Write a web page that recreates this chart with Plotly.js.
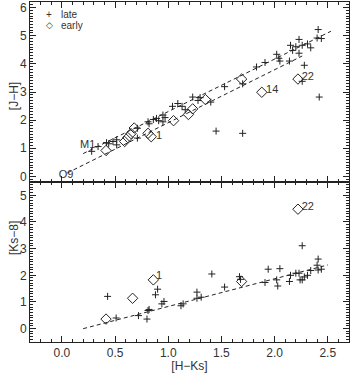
<!DOCTYPE html>
<html><head><meta charset="utf-8">
<script src="https://cdn.plot.ly/plotly-3.0.1.min.js"></script>
<style>html,body{margin:0;padding:0;background:#fff}#c{width:351px;height:373px}</style>
</head><body><div id="c"></div>
<script>
// Top panel: [J-H] vs [H-Ks]
const topLateX = [0.28,0.34,0.42,0.44,0.48,0.515,0.515,0.71,0.71,0.81,0.82,0.86,0.89,0.91,0.95,0.97,0.95,1.04,1.09,1.13,1.16,1.23,1.28,1.30,1.40,1.45,1.53,1.70,1.70,1.83,1.91,2.02,2.04,2.05,2.14,2.15,2.17,2.20,2.23,2.23,2.26,2.28,2.31,2.34,2.26,2.41,2.40,2.44,2.42];
const topLateY = [0.89,1.06,1.20,1.16,1.24,1.30,1.12,1.71,1.36,1.94,1.87,2.02,2.06,1.98,2.18,2.09,1.94,2.49,2.59,2.49,2.37,2.82,2.70,2.80,2.64,1.61,3.19,3.29,1.53,3.89,4.05,4.34,4.20,4.10,4.10,4.66,4.48,4.61,4.87,4.38,4.66,3.95,4.71,4.57,3.38,5.22,4.92,4.90,2.82];
const topEarlyX = [0.415,0.59,0.62,0.65,0.68,0.81,0.84,1.05,1.19,1.23,1.35,1.69,1.88,2.22];
const topEarlyY = [0.92,1.24,1.38,1.52,1.72,1.53,1.41,1.98,2.20,2.40,2.73,3.46,2.99,3.46];
const topUpperLineX = [0.20, 2.53];
const topUpperLineY = [0.81, 5.16];
const topLowerLineX = [0.05, 2.26];
const topLowerLineY = [0.12, 4.28];
const topLabelText = ['O9','M1','1','14','22'];
const topLabelX = [-0.03, 0.17, 0.885, 1.92, 2.255];
const topLabelY = [0.03, 1.10, 1.43, 3.06, 3.52];

// Bottom panel: [Ks-8] vs [H-Ks]
const botLateX = [0.43,0.51,0.72,0.80,0.81,0.82,0.88,0.90,0.94,0.96,1.12,1.14,1.27,1.27,1.31,1.41,1.53,1.67,1.68,1.91,1.94,2.02,2.03,2.05,2.14,2.15,2.20,2.23,2.24,2.26,2.28,2.31,2.34,2.26,2.41,2.41,2.40,2.44];
const botLateY = [1.21,0.40,0.49,0.36,0.68,0.72,1.27,1.48,0.93,1.02,0.86,0.93,1.37,1.14,1.18,2.05,1.56,1.95,1.85,1.73,2.23,1.83,1.60,2.25,1.77,2.00,2.08,2.08,1.83,1.83,1.94,2.00,2.18,3.11,2.61,2.20,2.38,2.23];
const botEarlyX = [0.415,0.665,0.86,1.69,2.22];
const botEarlyY = [0.36,1.14,1.83,1.77,4.48];
const botLineX = [0.20, 2.50];
const botLineY = [0.00, 2.39];
const botLabelText = ['1','22'];
const botLabelX = [0.885, 2.255];
const botLabelY = [1.95, 4.56];

const xTickVals = [0.0,0.5,1.0,1.5,2.0,2.5];
const xTickText = ['0.0','0.5','1.0','1.5','2.0','2.5'];

const FONT = 'Liberation Sans, Arial, sans-serif';
const TXT = '#333';
const plus = {symbol:'cross-thin-open', size:5, color:'#222', line:{color:'#222', width:1}};
const diam = {symbol:'diamond-open', size:8, color:'#222', line:{color:'#222', width:1}};
const dash = {color:'#222', width:1, dash:'4px,3px'};

const traces = [
  {x:topUpperLineX, y:topUpperLineY, xaxis:'x2', yaxis:'y', mode:'lines', line:dash, showlegend:false, hoverinfo:'skip'},
  {x:topLowerLineX, y:topLowerLineY, xaxis:'x2', yaxis:'y', mode:'lines', line:dash, showlegend:false, hoverinfo:'skip'},
  {x:topLateX, y:topLateY, xaxis:'x2', yaxis:'y', mode:'markers', marker:plus, name:'late', showlegend:false},
  {x:topEarlyX, y:topEarlyY, xaxis:'x2', yaxis:'y', mode:'markers', marker:diam, name:'early', showlegend:false},
  {x:topLabelX, y:topLabelY, xaxis:'x2', yaxis:'y', mode:'text', text:topLabelText, textposition:'middle right', textfont:{family:FONT, size:11, color:TXT}, showlegend:false, hoverinfo:'skip'},
  {x:botLineX, y:botLineY, xaxis:'x', yaxis:'y2', mode:'lines', line:dash, showlegend:false, hoverinfo:'skip'},
  {x:botLateX, y:botLateY, xaxis:'x', yaxis:'y2', mode:'markers', marker:plus, showlegend:false},
  {x:botEarlyX, y:botEarlyY, xaxis:'x', yaxis:'y2', mode:'markers', marker:diam, showlegend:false},
  {x:botLabelX, y:botLabelY, xaxis:'x', yaxis:'y2', mode:'text', text:botLabelText, textposition:'middle right', textfont:{family:FONT, size:11, color:TXT}, showlegend:false, hoverinfo:'skip'}
];

const axBase = {showline:true, linecolor:'#222', linewidth:1, mirror:'ticks', ticks:'inside', ticklen:6, tickcolor:'#222', tickwidth:1, showgrid:false, zeroline:false, tickfont:{family:FONT, size:12, color:TXT}};
const split = 0.4706;

const layout = {
  width:351, height:373,
  margin:{l:30, r:2, t:2, b:31},
  paper_bgcolor:'#fff', plot_bgcolor:'#fff',
  showlegend:false,
  font:{family:FONT, color:TXT},
  xaxis: Object.assign({}, axBase, {range:[-0.3,2.7], anchor:'y2', tickvals:xTickVals, ticktext:xTickText,
    minor:{dtick:0.1, ticks:'inside', ticklen:3, tickcolor:'#222'},
    title:{text:'[H−Ks]', font:{family:FONT, size:12, color:TXT}, standoff:4}}),
  xaxis2: Object.assign({}, axBase, {range:[-0.3,2.7], anchor:'y', matches:'x', tickvals:xTickVals, showticklabels:false,
    minor:{dtick:0.1, ticks:'inside', ticklen:3, tickcolor:'#222'}}),
  yaxis: Object.assign({}, axBase, {domain:[split,1], range:[-0.2,6.2], anchor:'x2', dtick:1, tick0:0,
    minor:{dtick:0.1, ticks:'inside', ticklen:3, tickcolor:'#222'}}),
  yaxis2: Object.assign({}, axBase, {domain:[0,split], range:[-0.5,5.5], anchor:'x', dtick:1, tick0:0,
    minor:{dtick:0.1, ticks:'inside', ticklen:3, tickcolor:'#222'}}),
  annotations:[
    {text:'[J−H]', xref:'paper', yref:'paper', x:0, y:0.77, xshift:-25, textangle:-90, showarrow:false, font:{family:FONT, size:12, color:TXT}},
    {text:'[Ks−8]', xref:'paper', yref:'paper', x:0, y:0.25, xshift:-25, textangle:-90, showarrow:false, font:{family:FONT, size:12, color:TXT}},
    {text:'+', xref:'paper', yref:'paper', x:0.06, y:0.962, xanchor:'center', yanchor:'middle', showarrow:false, font:{family:FONT, size:10, color:TXT}},
    {text:'late', xref:'paper', yref:'paper', x:0.09, y:0.962, xanchor:'left', yanchor:'middle', showarrow:false, font:{family:FONT, size:10, color:TXT}},
    {text:'◇', xref:'paper', yref:'paper', x:0.06, y:0.932, xanchor:'center', yanchor:'middle', showarrow:false, font:{family:'DejaVu Sans', size:9, color:TXT}},
    {text:'early', xref:'paper', yref:'paper', x:0.09, y:0.932, xanchor:'left', yanchor:'middle', showarrow:false, font:{family:FONT, size:10, color:TXT}}
  ]
};
Plotly.newPlot('c', traces, layout, {displayModeBar:false, staticPlot:true});
</script></body></html>
